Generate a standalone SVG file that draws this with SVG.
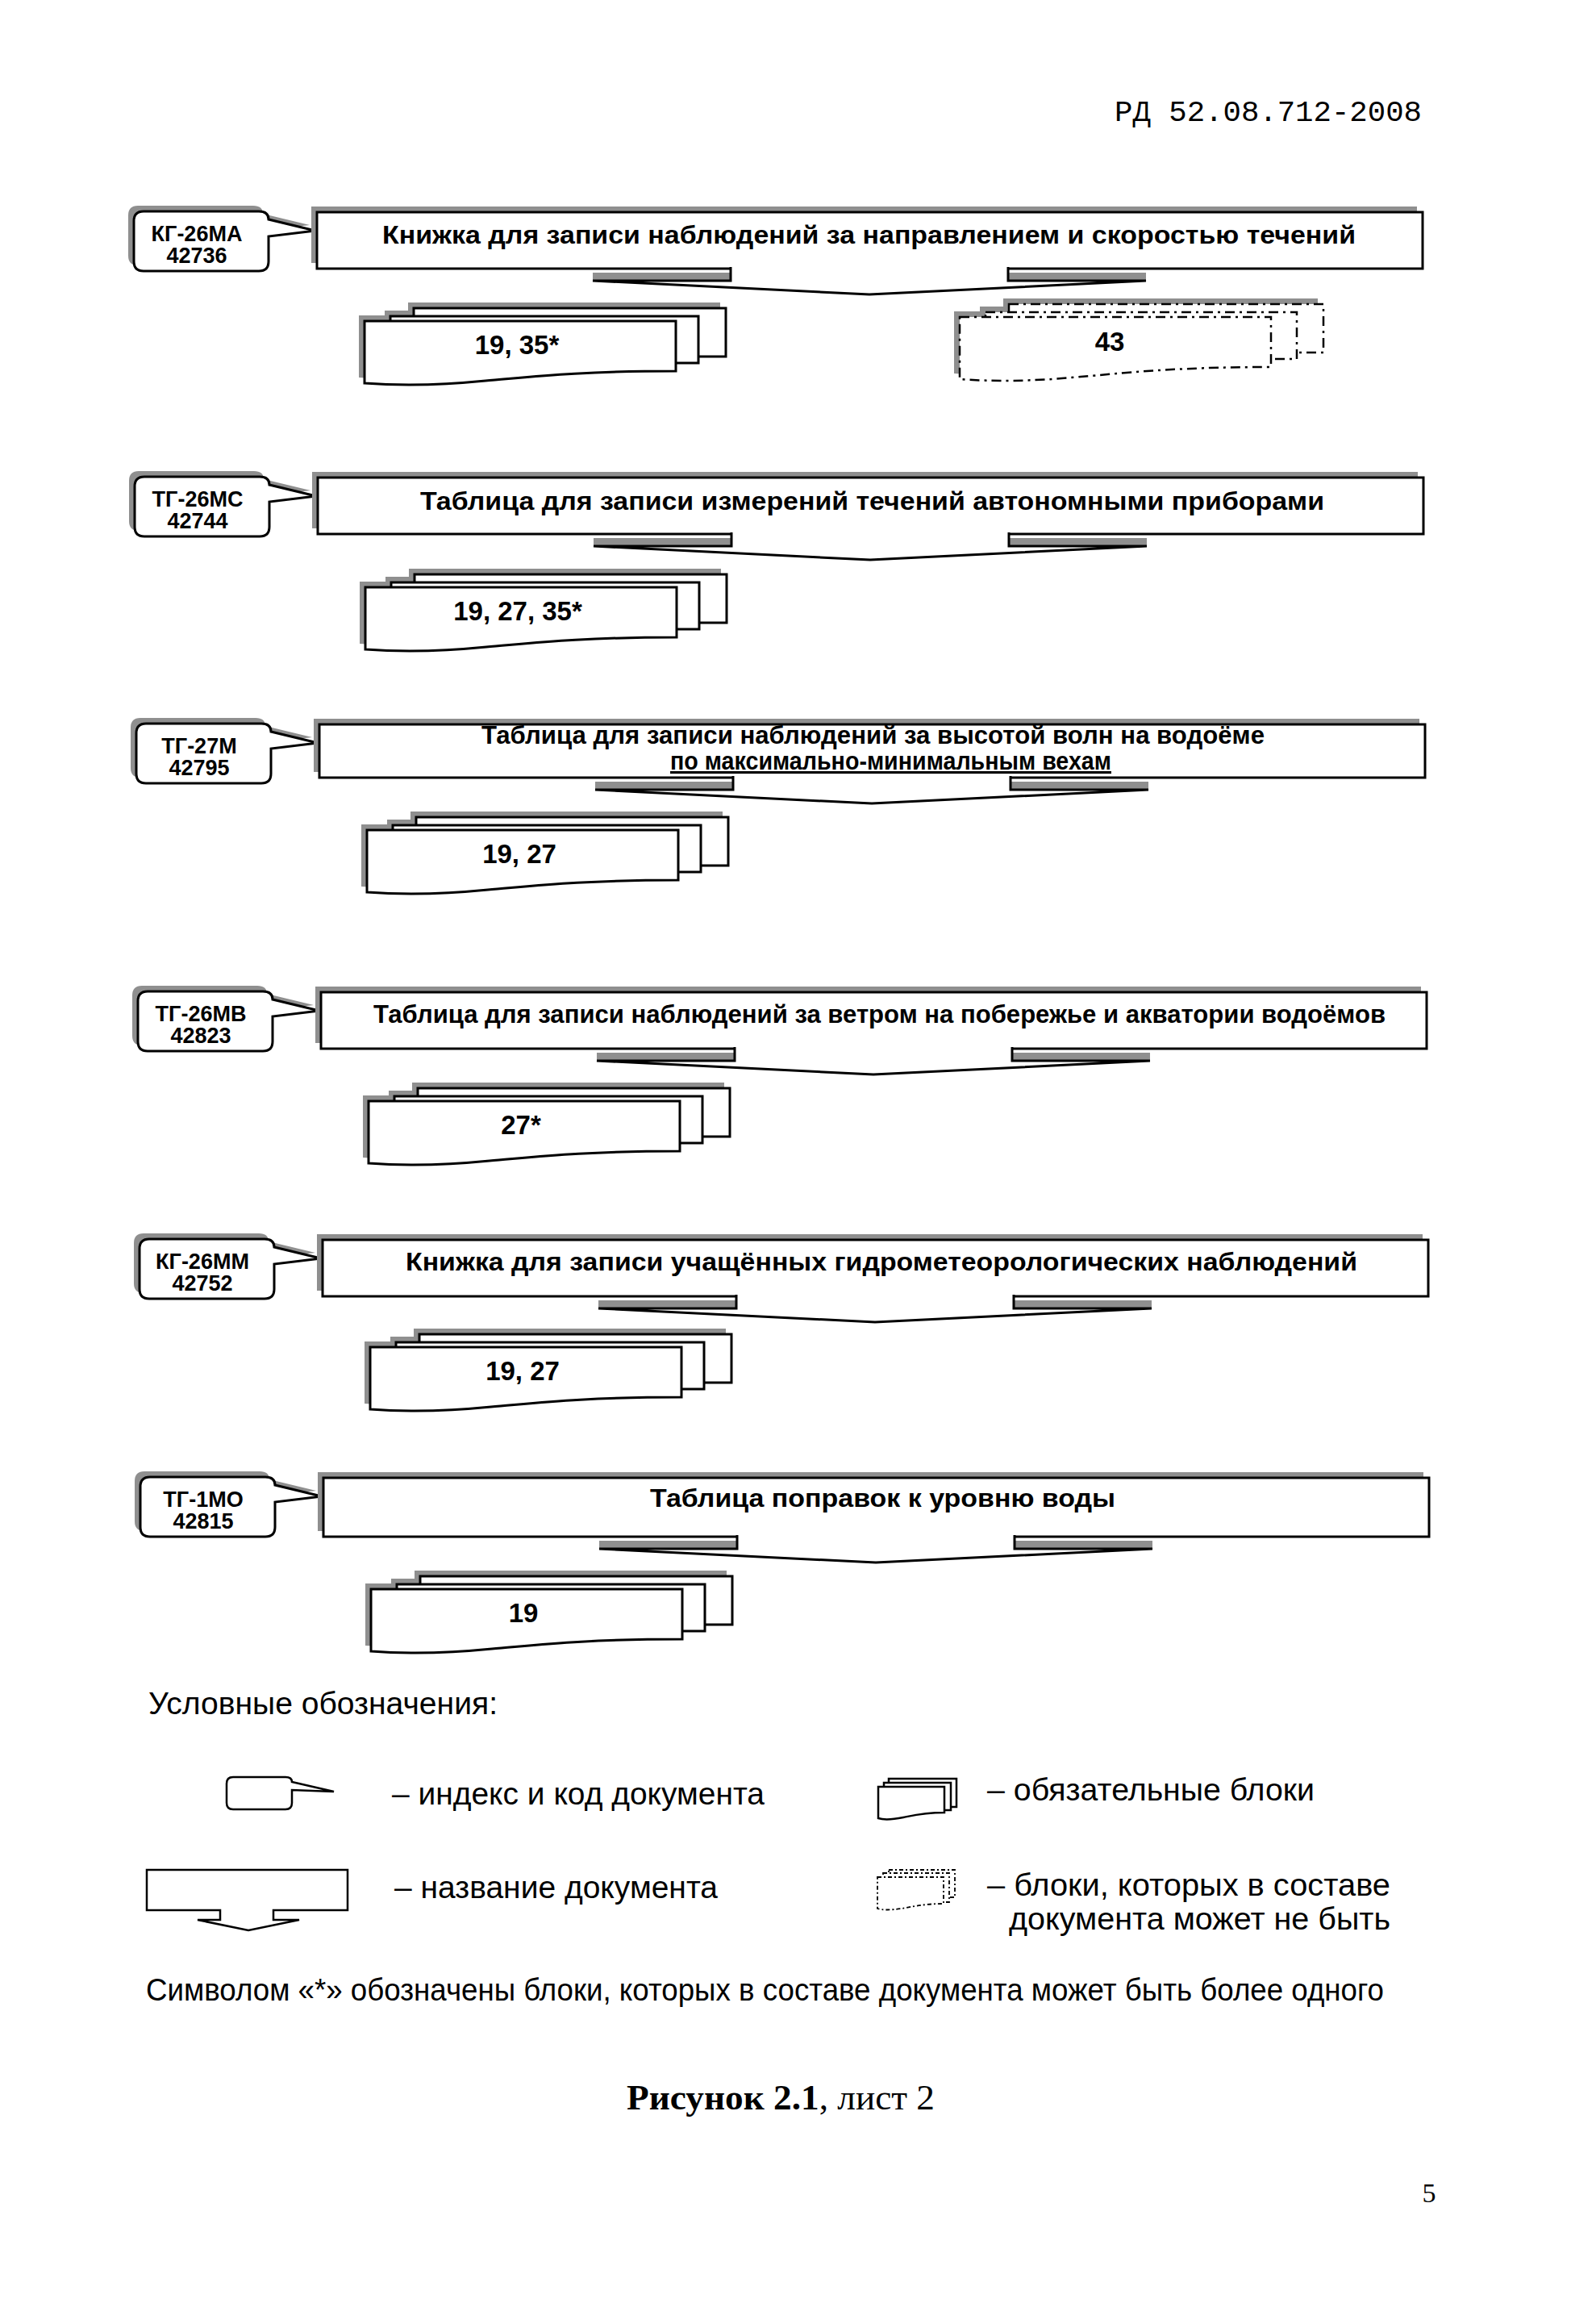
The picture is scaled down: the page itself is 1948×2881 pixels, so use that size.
<svg xmlns="http://www.w3.org/2000/svg" width="1948" height="2881" viewBox="0 0 1948 2881">
<style>
.sh{fill:#8f8f8f;stroke:none}
.wb{fill:#fff;stroke:#000;stroke-width:3;stroke-linejoin:miter}
.dd{fill:#fff;stroke:#000;stroke-width:2.5;stroke-dasharray:12 6 3 6}
.lg{fill:#fff;stroke:#000;stroke-width:2.5}
.lgd{fill:#fff;stroke:#000;stroke-width:1.8;stroke-dasharray:5 3 2 3}
.code{font-family:"Liberation Sans",Arial,sans-serif;font-weight:bold;font-size:27px;text-anchor:middle}
.ttl{font-family:"Liberation Sans",Arial,sans-serif;font-weight:bold;font-size:31px}
.blk{font-family:"Liberation Sans",Arial,sans-serif;font-weight:bold;font-size:33px;text-anchor:middle}
.leg{font-family:"Liberation Sans",Arial,sans-serif;font-size:38px}
</style>
<defs>
<path id="callP" d="M12,0 H155 Q167,0 167,10 L225,24 L167,31 V62 Q167,74 155,74 H12 Q0,74 0,62 V12 Q0,0 12,0 Z"/>
<path id="frontP" d="M0,0 H386 V62 C260,62 200,70 150,74 C90,80 40,80 0,77 Z"/>
<g id="callout">
<use class="sh" href="#callP" x="-7" y="-7"/>
<use class="wb" href="#callP"/>
</g>
<g id="stack">
<g class="sh"><rect x="54" y="-23" width="387" height="60"/><rect x="25" y="-13" width="382" height="58"/><use href="#frontP" x="-7" y="-7"/></g>
<rect class="wb" x="61" y="-16" width="387" height="60"/>
<rect class="wb" x="32" y="-6" width="382" height="58"/>
<use class="wb" href="#frontP"/>
</g>
<g id="ostack">
<g class="sh"><rect x="54" y="-23" width="390" height="60"/><rect x="25" y="-13" width="386" height="58"/><use href="#frontP" x="-7" y="-7"/></g>
<rect class="dd" x="61" y="-16" width="390" height="60"/>
<rect class="dd" x="32" y="-6" width="386" height="58"/>
<use class="dd" href="#frontP"/>
</g>
</defs>
<rect width="1948" height="2881" fill="#fff"/>

<text x="1382" y="150" font-family="'Liberation Mono','Courier New',monospace" font-size="37" textLength="381" lengthAdjust="spacingAndGlyphs">РД 52.08.712-2008</text>

<!-- Section 1 -->
<g id="n1-code"><use href="#callout" x="166" y="262"/><text class="code" x="244" y="299">КГ-26МА</text><text class="code" x="244" y="326">42736</text></g>
<g id="n1-title"><rect class="sh" x="386" y="256" width="1371" height="70"/><rect class="wb" x="393" y="263" width="1371" height="70"/><text class="ttl" x="474" y="302" textLength="1207" lengthAdjust="spacingAndGlyphs">Книжка для записи наблюдений за направлением и скоростью течений</text></g>
<g id="n1-blocks"><use href="#stack" x="452" y="398"/><text class="blk" x="641" y="439">19, 35*</text></g>
<g id="n1-optional"><use href="#ostack" x="1190" y="393"/><text class="blk" x="1376" y="435">43</text></g>

<!-- Section 2 -->
<g id="n2-code"><use href="#callout" x="167" y="591"/><text class="code" x="245" y="628">ТГ-26МС</text><text class="code" x="245" y="655">42744</text></g>
<g id="n2-title"><rect class="sh" x="387" y="585" width="1371" height="70"/><rect class="wb" x="394" y="592" width="1371" height="70"/><text class="ttl" x="521" y="632" textLength="1121" lengthAdjust="spacingAndGlyphs">Таблица для записи измерений течений автономными приборами</text></g>
<g id="n2-blocks"><use href="#stack" x="453" y="728"/><text class="blk" x="642" y="769">19, 27, 35*</text></g>

<!-- Section 3 -->
<g id="n3-code"><use href="#callout" x="169" y="897"/><text class="code" x="247" y="934">ТГ-27М</text><text class="code" x="247" y="961">42795</text></g>
<g id="n3-title"><rect class="sh" x="389" y="891" width="1371" height="66"/><rect class="wb" x="396" y="898" width="1371" height="66"/><text class="ttl" font-size="27" x="597" y="922" textLength="971" lengthAdjust="spacingAndGlyphs">Таблица для записи наблюдений за высотой волн на водоёме</text><text class="ttl" font-size="27" x="831" y="954" textLength="547" lengthAdjust="spacingAndGlyphs" text-decoration="underline">по максимально-минимальным вехам</text></g>
<g id="n3-blocks"><use href="#stack" x="455" y="1029"/><text class="blk" x="644" y="1070">19, 27</text></g>

<!-- Section 4 -->
<g id="n4-code"><use href="#callout" x="171" y="1229"/><text class="code" x="249" y="1266">ТГ-26МВ</text><text class="code" x="249" y="1293">42823</text></g>
<g id="n4-title"><rect class="sh" x="391" y="1223" width="1371" height="70"/><rect class="wb" x="398" y="1230" width="1371" height="70"/><text class="ttl" font-size="28" x="463" y="1268" textLength="1255" lengthAdjust="spacingAndGlyphs">Таблица для записи наблюдений за ветром на побережье и акватории водоёмов</text></g>
<g id="n4-blocks"><use href="#stack" x="457" y="1365"/><text class="blk" x="646" y="1406">27*</text></g>

<!-- Section 5 -->
<g id="n5-code"><use href="#callout" x="173" y="1536"/><text class="code" x="251" y="1573">КГ-26ММ</text><text class="code" x="251" y="1600">42752</text></g>
<g id="n5-title"><rect class="sh" x="393" y="1530" width="1371" height="70"/><rect class="wb" x="400" y="1537" width="1371" height="70"/><text class="ttl" x="503" y="1575" textLength="1180" lengthAdjust="spacingAndGlyphs">Книжка для записи учащённых гидрометеорологических наблюдений</text></g>
<g id="n5-blocks"><use href="#stack" x="459" y="1670"/><text class="blk" x="648" y="1711">19, 27</text></g>

<!-- Section 6 -->
<g id="n6-code"><use href="#callout" x="174" y="1831"/><text class="code" x="252" y="1868">ТГ-1МО</text><text class="code" x="252" y="1895">42815</text></g>
<g id="n6-title"><rect class="sh" x="394" y="1825" width="1371" height="73"/><rect class="wb" x="401" y="1832" width="1371" height="73"/><text class="ttl" x="806" y="1868" textLength="577" lengthAdjust="spacingAndGlyphs">Таблица поправок к уровню воды</text></g>
<g id="n6-blocks"><use href="#stack" x="460" y="1970"/><text class="blk" x="649" y="2011">19</text></g>

<!-- Connectors: down arrows from titles to blocks -->
<g id="connectors">
<rect class="sh" x="735" y="338" width="171" height="10"/><rect class="sh" x="1250" y="338" width="171" height="10"/>
<path class="wb" d="M906,331 V348 H735 L1078,365 L1421,348 H1250 V331"/>
<rect class="sh" x="736" y="667" width="171" height="10"/><rect class="sh" x="1251" y="667" width="171" height="10"/>
<path class="wb" d="M907,660 V677 H736 L1079,694 L1422,677 H1251 V660"/>
<rect class="sh" x="738" y="969" width="171" height="10"/><rect class="sh" x="1253" y="969" width="171" height="10"/>
<path class="wb" d="M909,962 V979 H738 L1081,996 L1424,979 H1253 V962"/>
<rect class="sh" x="740" y="1305" width="171" height="10"/><rect class="sh" x="1255" y="1305" width="171" height="10"/>
<path class="wb" d="M911,1298 V1315 H740 L1083,1332 L1426,1315 H1255 V1298"/>
<rect class="sh" x="742" y="1612" width="171" height="10"/><rect class="sh" x="1257" y="1612" width="171" height="10"/>
<path class="wb" d="M913,1605 V1622 H742 L1085,1639 L1428,1622 H1257 V1605"/>
<rect class="sh" x="743" y="1910" width="171" height="10"/><rect class="sh" x="1258" y="1910" width="171" height="10"/>
<path class="wb" d="M914,1903 V1920 H743 L1086,1937 L1429,1920 H1258 V1903"/>
</g>

<!-- Legend -->
<g id="legend">
<text class="leg" x="184" y="2125" textLength="433" lengthAdjust="spacingAndGlyphs">Условные обозначения:</text>
<path class="lg" d="M289,2203 H354 Q362,2203 362,2209 L414,2221 L362,2219 V2235 Q362,2243 354,2243 H289 Q281,2243 281,2235 V2211 Q281,2203 289,2203 Z"/>
<text class="leg" x="486" y="2237" textLength="462" lengthAdjust="spacingAndGlyphs">– индекс и код документа</text>
<path class="lg" d="M273,2368 H182 V2318 H431 V2368 H339 V2380 H371 L308,2393 L245,2380 H273 Z"/>
<text class="leg" x="489" y="2353" textLength="401" lengthAdjust="spacingAndGlyphs">– название документа</text>
<rect class="lg" x="1102" y="2205" width="84" height="35"/>
<rect class="lg" x="1096" y="2210" width="83" height="34"/>
<path class="lg" d="M1089,2215 H1171 V2247 C1145,2247 1130,2251 1120,2253 C1105,2256 1095,2256 1089,2254 Z"/>
<text class="leg" x="1224" y="2232" textLength="406" lengthAdjust="spacingAndGlyphs">– обязательные блоки</text>
<rect class="lgd" x="1102" y="2318" width="82" height="34"/>
<rect class="lgd" x="1095" y="2322" width="82" height="36"/>
<path class="lgd" d="M1088,2327 H1170 V2360 C1145,2360 1130,2364 1118,2366 C1104,2368 1094,2368 1088,2366 Z"/>
<text class="leg" x="1224" y="2350" textLength="500" lengthAdjust="spacingAndGlyphs">– блоки, которых в составе</text>
<text class="leg" x="1251" y="2392" textLength="473" lengthAdjust="spacingAndGlyphs">документа может не быть</text>
<text class="leg" x="181" y="2480" textLength="1535" lengthAdjust="spacingAndGlyphs">Символом «*» обозначены блоки, которых в составе документа может быть более одного</text>
</g>

<text x="777" y="2615" font-family="'Liberation Serif','Times New Roman',serif" font-size="44" textLength="382" lengthAdjust="spacingAndGlyphs"><tspan font-weight="bold">Рисунок 2.1</tspan>, лист 2</text>
<text x="1772" y="2730" font-family="'Liberation Serif','Times New Roman',serif" font-size="34" text-anchor="middle">5</text>
</svg>
